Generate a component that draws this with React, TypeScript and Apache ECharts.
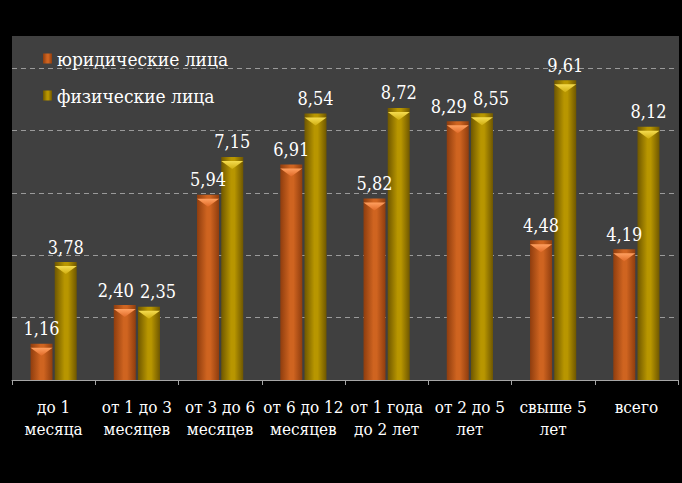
import React, { useEffect, useRef } from "react";
import * as echarts from "echarts";

const categories = [
  "до 1\nмесяца",
  "от 1 до 3\nмесяцев",
  "от 3 до 6\nмесяцев",
  "от 6 до 12\nмесяцев",
  "от 1 года\nдо 2 лет",
  "от 2 до 5\nлет",
  "свыше 5\nлет",
  "всего",
];
const seriesNames = ["юридические лица", "физические лица"];
const legalValues = [1.16, 2.4, 5.94, 6.91, 5.82, 8.29, 4.48, 4.19];
const physicalValues = [3.78, 2.35, 7.15, 8.54, 8.72, 8.55, 9.61, 8.12];

const FONT = "DejaVu Serif Condensed";

const hGrad = (edge: string, mid: string) =>
  new echarts.graphic.LinearGradient(0, 0, 1, 0, [
    { offset: 0, color: edge },
    { offset: 0.45, color: mid },
    { offset: 0.6, color: mid },
    { offset: 1, color: edge },
  ]);

const capGrad = (top: string, bottom: string) =>
  new echarts.graphic.LinearGradient(0, 0, 0, 1, [
    { offset: 0, color: top },
    { offset: 1, color: bottom },
  ]);

export default function App() {
  const ref = useRef<HTMLDivElement>(null);
  useEffect(() => {
    document.body.style.margin = "0";
    const chart = echarts.init(ref.current!, null, { renderer: "svg" });
    const barW = 22;
    const labelFmt = (p: any) => Number(p.value).toFixed(2).replace(".", ",");
    const valueLabel = {
      show: true,
      position: "top" as const,
      distance: 6,
      color: "#ffffff",
      fontFamily: FONT,
      fontSize: 18,
      formatter: labelFmt,
    };
    const pairShift = (p: any) => {
      const a = legalValues[p.dataIndex];
      const b = physicalValues[p.dataIndex];
      if (Math.abs(a - b) < 0.7) {
        return { dx: p.seriesIndex === 0 ? -9 : 9 };
      }
      return {};
    };
    chart.setOption({
      animation: false,
      backgroundColor: "#000000",
      textStyle: { fontFamily: FONT },
      graphic: [
        {
          type: "rect",
          z: -10,
          silent: true,
          shape: { x: 12, y: 36, width: 667, height: 344 },
          style: { fill: "#404040" },
        },
      ],
      legend: {
        data: seriesNames,
        orient: "vertical",
        left: 38,
        top: 44,
        itemWidth: 9,
        itemHeight: 10,
        itemGap: 18,
        icon: "rect",
        textStyle: { color: "#ffffff", fontFamily: FONT, fontSize: 19 },
      },
      grid: { left: 12, right: 4, top: 68, bottom: 103, containLabel: false },
      xAxis: {
        type: "category",
        data: categories,
        axisLine: { show: true, lineStyle: { color: "#a6a6a6", width: 1 } },
        axisTick: { show: true, length: 5, lineStyle: { color: "#a6a6a6" } },
        axisLabel: {
          color: "#ffffff",
          fontFamily: FONT,
          fontSize: 17,
          lineHeight: 22,
          margin: 16,
          interval: 0,
        },
      },
      yAxis: {
        type: "value",
        min: 0,
        max: 10,
        interval: 2,
        axisLine: { show: false },
        axisTick: { show: false },
        axisLabel: { show: false },
        splitLine: {
          show: true,
          lineStyle: { color: "#9a9a9a", type: [5, 4], width: 1 },
        },
      },
      series: [
        {
          name: seriesNames[0],
          type: "bar",
          data: legalValues,
          barWidth: barW,
          barGap: "10%",
          itemStyle: { color: hGrad("#8f3d0e", "#cf6420") },
          label: valueLabel,
          labelLayout: pairShift,
          z: 2,
        },
        {
          name: seriesNames[1],
          type: "bar",
          data: physicalValues,
          barWidth: barW,
          barGap: "10%",
          itemStyle: { color: hGrad("#6f5700", "#b89600") },
          label: valueLabel,
          labelLayout: pairShift,
          z: 2,
        },
        {
          name: "cap1",
          type: "pictorialBar",
          data: legalValues,
          barWidth: barW,
          barGap: "10%",
          symbol: "path://M0,0L20,0L10,7Z",
          symbolSize: [barW, 8],
          symbolPosition: "end",
          symbolOffset: [0, "50%"],
          itemStyle: { color: capGrad("#ffa060", "#e06a28") },
          z: 5,
          silent: true,
        },
        {
          name: "cap2",
          type: "pictorialBar",
          data: physicalValues,
          barWidth: barW,
          barGap: "10%",
          symbol: "path://M0,0L20,0L10,7Z",
          symbolSize: [barW, 8],
          symbolPosition: "end",
          symbolOffset: [0, "50%"],
          itemStyle: { color: capGrad("#f5dc50", "#d0ae10") },
          z: 5,
          silent: true,
        },
      ],
    });
    return () => chart.dispose();
  }, []);
  return (
    <div
      ref={ref}
      style={{ position: "absolute", left: 0, top: 0, width: 682, height: 483 }}
    />
  );
}
